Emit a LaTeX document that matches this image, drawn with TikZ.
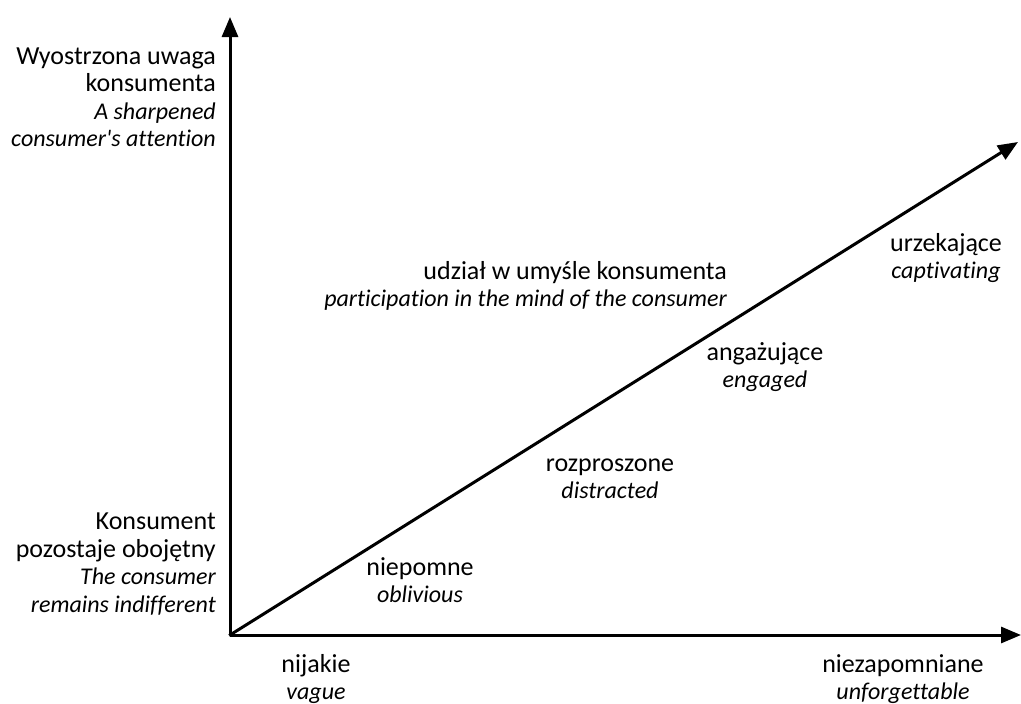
\documentclass[tikz,border=0pt]{standalone}
\usepackage{fontspec}
\setmainfont{Carlito}[Ligatures=NoCommon]
\usetikzlibrary{arrows.meta}
\newcommand{\engl}[1]{{\fontsize{24}{27.5}\selectfont\itshape #1}}
\tikzset{
  axis/.style={line width=3pt, -{Triangle[length=20pt,width=16pt]}},
  lbl/.style={align=center, font=\fontsize{26}{27.5}\selectfont, inner sep=0pt},
  side/.style={lbl, align=right}
}
\begin{document}
\begin{tikzpicture}[x=1pt,y=-1pt]
\useasboundingbox (0,0) rectangle (1021,704);

% axes
\coordinate (O) at (230,635);
\coordinate (ytip) at (230,17);
\coordinate (xtip) at (1021,635);
\coordinate (dtip) at (1018,142);
\draw[axis] (O) -- (ytip);
\draw[axis] (O) -- (xtip);
\draw[axis, shorten <=-1pt] (O) -- (dtip);

% opisy osi
\node[side, anchor=east] (top) at (216,97) {Wyostrzona uwaga\\konsumenta\\\engl{A sharpened}\\\engl{consumer\textquotesingle s attention}};
\node[side, anchor=east] (bottom) at (216,564) {Konsument\\pozostaje obojętny\\\engl{The consumer}\\\engl{remains indifferent}};
\node[lbl] (low) at (316,679) {nijakie\\\engl{vague}};
\node[lbl] (high) at (903,679) {niezapomniane\\\engl{unforgettable}};

% etapy wzdluz przekatnej
\foreach \pl/\eng/\x/\y [count=\i] in {niepomne/oblivious/420/580,
    rozproszone/distracted/610/479,
    angażujące/engaged/765/367,
    urzekające/captivating/946/258}{
  \node[lbl] (stage\i) at (\x,\y) {\pl\\\engl{\eng}};
}

\node[side, anchor=east] (share) at (727,286) {udział w umyśle konsumenta\\\engl{participation in the mind of the consumer}};
\end{tikzpicture}
\end{document}
